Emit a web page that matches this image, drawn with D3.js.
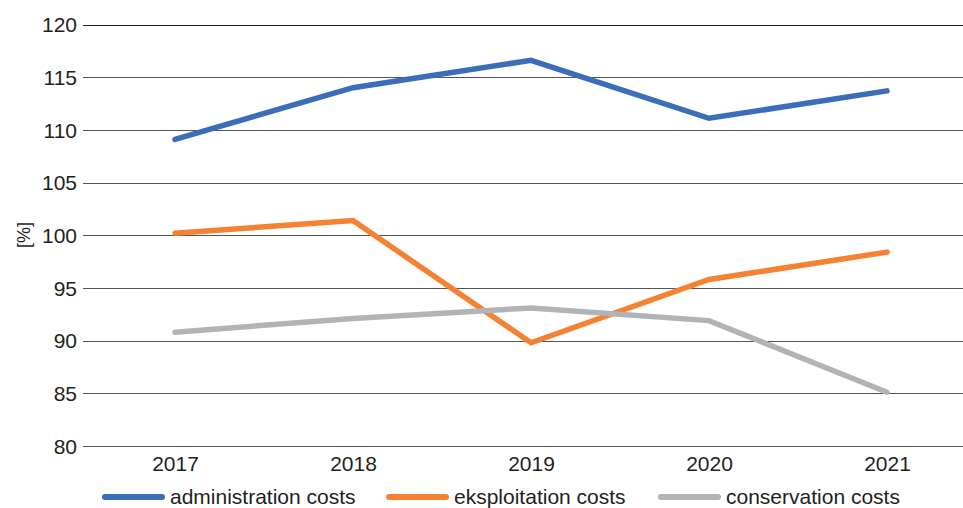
<!DOCTYPE html>
<html><head><meta charset="utf-8">
<script src="https://cdn.jsdelivr.net/npm/d3@7"></script>
<style>body{margin:0;background:#fff}svg{display:block}text{font-family:"Liberation Sans",Arial,sans-serif;fill:#231f20}</style>
</head><body><svg id="c" width="963" height="508"></svg>
<script>
const years = ["2017","2018","2019","2020","2021"];
const yTicks = [80,85,90,95,100,105,110,115,120];
const administration = [109.1,114.0,116.6,111.1,113.7];
const eksploitation = [100.2,101.4,89.8,95.8,98.4];
const conservation = [90.8,92.1,93.1,91.9,85.1];
const seriesNames = ["administration costs","eksploitation costs","conservation costs"];
const colors = ["#3b6db8","#f58232","#b2b3b6"];

const svg = d3.select("#c");
const x = d3.scalePoint().domain(years).range([86,976]).padding(0.5);
const y = d3.scaleLinear().domain([80,120]).range([446,24.5]);

const g = svg.append("g");
g.selectAll("line.grid").data(yTicks).join("line")
 .attr("x1",83).attr("x2",963)
 .attr("y1",d=>Math.round(y(d))+0.5).attr("y2",d=>Math.round(y(d))+0.5)
 .attr("stroke",d=>d===120?"#231f20":"#555").attr("stroke-width",1.2);

const yAxis = d3.axisLeft(y).tickValues(yTicks).tickSize(0).tickPadding(0);
svg.append("g").attr("transform","translate(77,0)").call(yAxis)
 .call(a=>a.select(".domain").remove())
 .selectAll("text").style("font-size","21px").attr("dy","0.35em");

const xAxis = d3.axisBottom(x).tickSize(0).tickPadding(0);
svg.append("g").attr("transform","translate(0,471)").call(xAxis)
 .call(a=>a.select(".domain").remove())
 .selectAll("text").style("font-size","21px").attr("dy","0");

svg.append("text").attr("transform","translate(30,235) rotate(-90)")
 .attr("text-anchor","middle").style("font-size","18px").text("[%]");

const data = [administration, eksploitation, conservation];
const line = d3.line().x((d,i)=>x(years[i])).y(d=>y(d));
svg.selectAll("path.s").data(data).join("path")
 .attr("d",line).attr("fill","none")
 .attr("stroke",(d,i)=>colors[i]).attr("stroke-width",5.5)
 .attr("stroke-linecap","round").attr("stroke-linejoin","miter");

const legX = [105,389,661];
const leg = svg.selectAll("g.leg").data(seriesNames).join("g")
 .attr("transform",(d,i)=>`translate(${legX[i]},497)`);
leg.append("line").attr("x1",0).attr("x2",57).attr("y1",0).attr("y2",0)
 .attr("stroke",(d,i)=>colors[i]).attr("stroke-width",6).attr("stroke-linecap","round");
leg.append("text").attr("x",65).attr("y",0).attr("dy","0.35em")
 .style("font-size","21px").text(d=>d);
</script></body></html>
